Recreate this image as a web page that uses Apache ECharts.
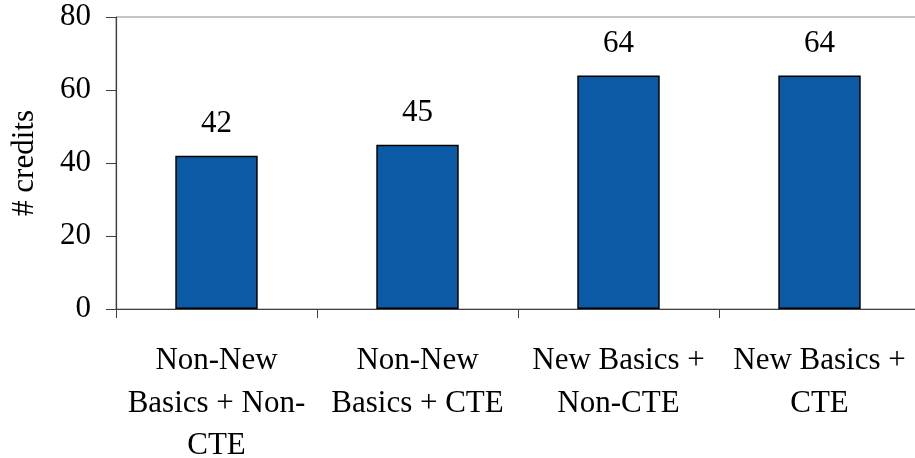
<!DOCTYPE html>
<html>
<head>
<meta charset="utf-8">
<script src="https://cdn.jsdelivr.net/npm/echarts@6/dist/echarts.min.js"></script>
<style>
  html, body { margin: 0; padding: 0; background: #fff; }
  #chart { width: 915px; height: 458px; }
</style>
</head>
<body>
<div id="chart"></div>
<script>
// Credit totals by student group
const categories = [
  'Non-New\nBasics + Non-\nCTE',
  'Non-New\nBasics + CTE',
  'New Basics +\nNon-CTE',
  'New Basics +\nCTE'
];
const credits = [42, 45, 64, 64];
const yTicks = { min: 0, max: 80, interval: 20 };

const FONT = '"Liberation Serif", "Times New Roman", serif';
const FS = 31;

const chart = echarts.init(document.getElementById('chart'), null, { renderer: 'canvas' });
chart.setOption({
  animation: false,
  backgroundColor: '#ffffff',
  grid: {
    left: 116, top: 17, width: 804, height: 292,
    outerBoundsMode: 'none',
    containLabel: false,
    show: true, borderColor: '#8c8c8c', borderWidth: 1, backgroundColor: 'transparent'
  },
  xAxis: {
    type: 'category',
    data: categories,
    boundaryGap: true,
    axisLine: { lineStyle: { color: '#404040', width: 1.2 } },
    axisTick: { show: true, alignWithLabel: false, length: 9, lineStyle: { color: '#404040' } },
    axisLabel: {
      interval: 0, margin: 31, color: '#000',
      fontFamily: FONT, fontSize: FS, lineHeight: 42.5, align: 'center'
    },
    splitLine: { show: false }
  },
  yAxis: {
    type: 'value',
    min: yTicks.min, max: yTicks.max, interval: yTicks.interval,
    name: '# credits',
    nameLocation: 'middle',
    nameGap: 76,
    nameTextStyle: { fontFamily: FONT, fontSize: FS, color: '#000' },
    axisLine: { show: true, lineStyle: { color: '#404040', width: 1.2 } },
    axisTick: { show: true, inside: false, length: 10, lineStyle: { color: '#404040' } },
    axisLabel: { margin: 25, color: '#000', fontFamily: FONT, fontSize: FS },
    splitLine: { show: false }
  },
  series: [{
    type: 'bar',
    data: credits,
    barWidth: '41%',
    itemStyle: { color: '#0B5AA5', borderColor: '#000', borderWidth: 1.5 },
    label: {
      show: true, position: 'top', distance: 16,
      fontFamily: FONT, fontSize: FS, color: '#000'
    }
  }]
});
</script>
</body>
</html>
